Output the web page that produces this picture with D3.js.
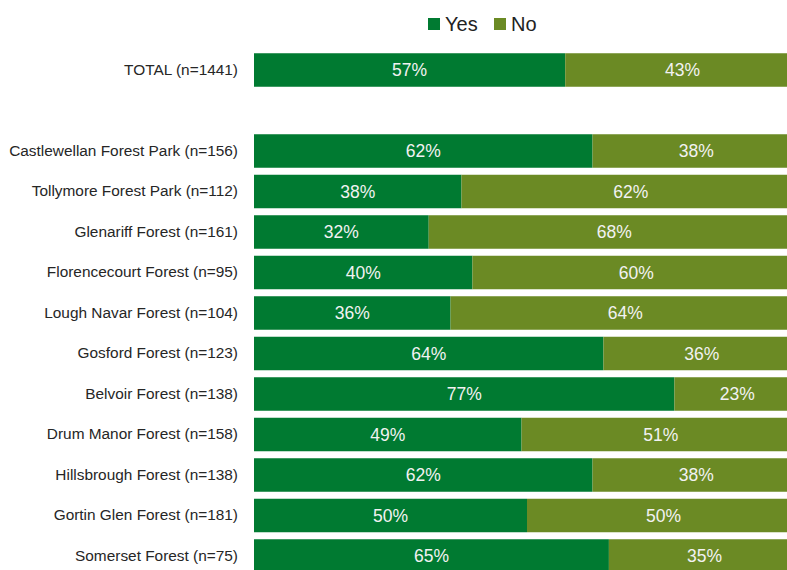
<!DOCTYPE html>
<html>
<head>
<meta charset="utf-8">
<script src="https://cdn.jsdelivr.net/npm/d3@7"></script>
<style>
  html, body { margin: 0; padding: 0; background: #fff; }
  svg { display: block; font-family: "Liberation Sans", Arial, sans-serif; }
</style>
</head>
<body>
<svg id="chart" width="787" height="570"></svg>
<script>
// Survey results: share answering Yes / No, overall and per forest
const categories = [
  "TOTAL (n=1441)",
  "",
  "Castlewellan Forest Park (n=156)",
  "Tollymore Forest Park (n=112)",
  "Glenariff Forest (n=161)",
  "Florencecourt Forest (n=95)",
  "Lough Navar Forest (n=104)",
  "Gosford Forest (n=123)",
  "Belvoir Forest (n=138)",
  "Drum Manor Forest (n=158)",
  "Hillsbrough Forest (n=138)",
  "Gortin Glen Forest (n=181)",
  "Somerset Forest (n=75)"
];
const yesValues = [57, null, 62, 38, 32, 40, 36, 64, 77, 49, 62, 50, 65];
const noValues  = [43, null, 38, 62, 68, 60, 64, 36, 23, 51, 38, 50, 35];
const seriesNames = ["Yes", "No"];
const seriesColors = ["#007A31", "#6B8A24"];

const svg = d3.select("#chart");

const x = d3.scaleLinear().domain([0, 100]).range([254, 800]);
const y = d3.scaleBand()
  .domain(categories.map((c, i) => i))
  .range([53.25, 572.75])
  .paddingInner(0.1728)
  .paddingOuter(0);

const rows = categories.map((c, i) => ({ i, label: c, yes: yesValues[i], no: noValues[i] }))
  .filter(d => d.yes != null);

// stacked segments
const segs = [];
rows.forEach(d => {
  segs.push({ i: d.i, x0: 0, x1: d.yes, v: d.yes, s: 0 });
  segs.push({ i: d.i, x0: d.yes, x1: d.yes + d.no, v: d.no, s: 1 });
});

const g = svg.append("g");
g.selectAll("rect.seg").data(segs).join("rect")
  .attr("class", "seg")
  .attr("x", d => x(d.x0))
  .attr("width", d => x(d.x1) - x(d.x0))
  .attr("y", d => y(d.i))
  .attr("height", y.bandwidth())
  .attr("fill", d => seriesColors[d.s]);

g.selectAll("text.val").data(segs).join("text")
  .attr("class", "val")
  .attr("x", d => (x(d.x0) + x(d.x1)) / 2)
  .attr("y", d => y(d.i) + y.bandwidth() / 2)
  .attr("dy", "0.36em")
  .attr("text-anchor", "middle")
  .attr("fill", "#F2F2F2")
  .style("font-size", "17.5px")
  .text(d => d.v + "%");

// category axis
const axis = d3.axisLeft(y).tickSize(0).tickPadding(16)
  .tickFormat(i => categories[i]);
const ax = svg.append("g").attr("transform", `translate(${x(0)},0)`).call(axis);
ax.select(".domain").remove();
ax.selectAll("text")
  .style("font-family", "\"Liberation Sans\", Arial, sans-serif")
  .style("font-size", "15.4px")
  .attr("fill", "#262626");

// legend
const legendItems = [
  { name: seriesNames[0], color: seriesColors[0], x: 428 },
  { name: seriesNames[1], color: seriesColors[1], x: 494 }
];
const lg = svg.append("g");
lg.selectAll("rect").data(legendItems).join("rect")
  .attr("x", d => d.x).attr("y", 18)
  .attr("width", 12).attr("height", 12)
  .attr("fill", d => d.color);
lg.selectAll("text").data(legendItems).join("text")
  .attr("x", d => d.x + 17).attr("y", 24)
  .attr("dy", "0.36em")
  .attr("fill", "#222")
  .style("font-size", "20px")
  .text(d => d.name);
</script>
</body>
</html>
